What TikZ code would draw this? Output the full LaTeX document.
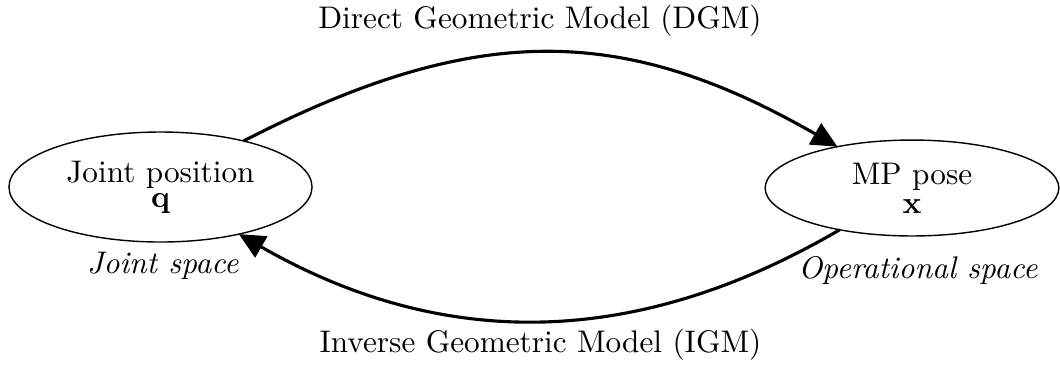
\documentclass[tikz,border=0pt]{standalone}
\usetikzlibrary{arrows.meta,shapes.geometric}
\begin{document}
\begin{tikzpicture}[x=0.32pt,y=-0.32pt,
  space/.style={ellipse,draw,line width=0.45pt,inner sep=0pt,outer sep=0pt,align=center},
  model/.style={line width=1pt,-{Triangle[length=8.3pt,width=7.7pt]}},
  lbl/.style={anchor=base,inner sep=0pt}]
\useasboundingbox (0,0) rectangle (1060,365);
\node[space,minimum width=97pt,minimum height=35.2pt] (L) at (160.5,187) {Joint position\\[-4pt]$\mathbf{q}$};
\node[space,minimum width=94pt,minimum height=30.7pt] (R) at (912,188) {MP pose\\[-2.7pt]$\mathbf{x}$};
\node[lbl] (js) at (163,273) {\textit{Joint space}};
\node[lbl] (os) at (918,278) {\textit{Operational space}};
\node[lbl] (dgm) at (540,28) {Direct Geometric Model (DGM)};
\node[lbl] (igm) at (540.5,352) {Inverse Geometric Model (IGM)};
\draw[model] (L.29.4) .. controls (475,22) and (622,23) .. (R.151.6);
\draw[model] (R.210.8) .. controls (634,350) and (441,350) .. (L.329.5);
\end{tikzpicture}
\end{document}
